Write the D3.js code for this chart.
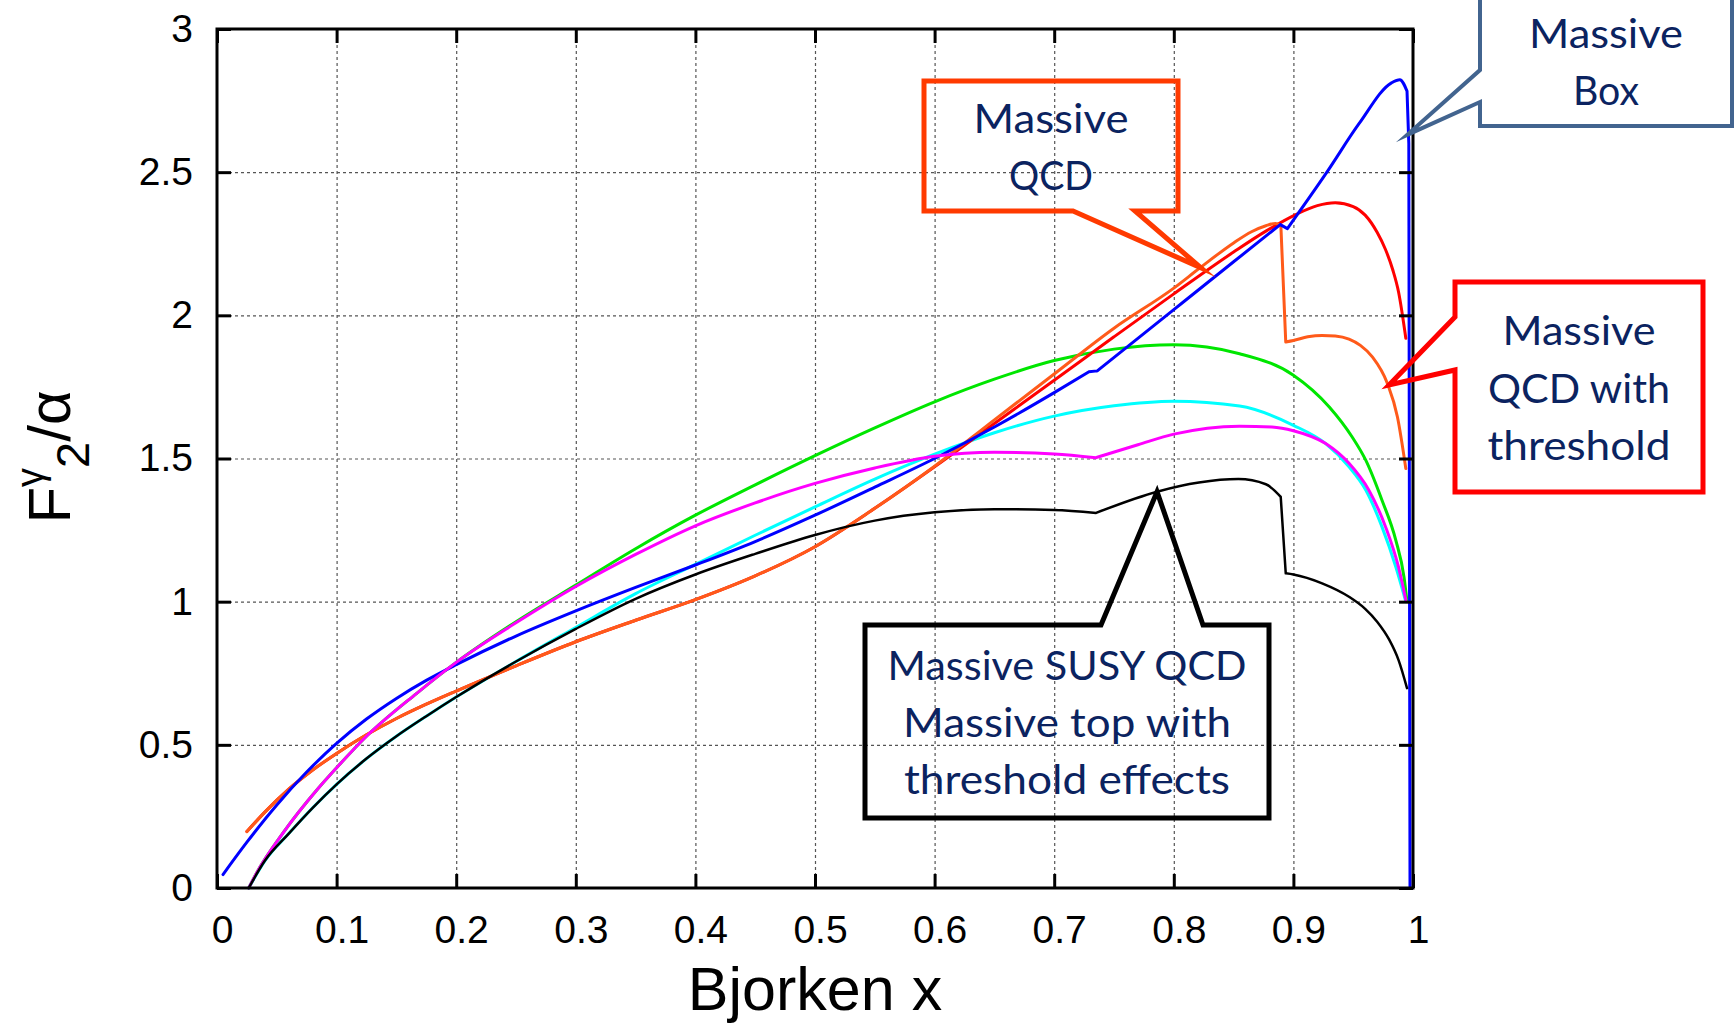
<!DOCTYPE html>
<html>
<head>
<meta charset="utf-8">
<script src="https://cdn.jsdelivr.net/npm/d3@7"></script>
<style>
  html, body { margin: 0; padding: 0; background: #fff; }
  svg { display: block; }
</style>
</head>
<body>
<svg id="chart" width="1734" height="1024"></svg>
<script>
// ---- axis ticks ----
const xTickValues = [0, 0.1, 0.2, 0.3, 0.4, 0.5, 0.6, 0.7, 0.8, 0.9, 1];
const xTickLabels = ["0", "0.1", "0.2", "0.3", "0.4", "0.5", "0.6", "0.7", "0.8", "0.9", "1"];
const yTickValues = [0, 0.5, 1, 1.5, 2, 2.5, 3];
const yTickLabels = ["0", "0.5", "1", "1.5", "2", "2.5", "3"];

// ---- F2^gamma / alpha versus Bjorken x, one [x, F2] list per curve ----
const curveGreen = [
  [0.0265, 0], [0.033, 0.052], [0.056, 0.197], [0.084, 0.345], [0.1, 0.42], [0.125, 0.53],
  [0.167, 0.68], [0.2, 0.788], [0.25, 0.93], [0.3, 1.058], [0.35, 1.185], [0.4, 1.302],
  [0.45, 1.408], [0.5, 1.51], [0.55, 1.607], [0.6, 1.698], [0.65, 1.777], [0.7, 1.842],
  [0.75, 1.882], [0.8, 1.897], [0.855, 1.866], [0.9, 1.791], [0.93, 1.68], [0.949, 1.576],
  [0.9605, 1.494], [0.974, 1.355], [0.9856, 1.215], [0.9925, 1.085], [0.995, 1.0]
];
const curveCyan = [
  [0.0265, 0], [0.04, 0.095], [0.06, 0.19], [0.08, 0.28], [0.1, 0.362], [0.125, 0.452],
  [0.15, 0.53], [0.175, 0.6], [0.2, 0.667], [0.25, 0.791], [0.3, 0.91], [0.35, 1.028],
  [0.4, 1.13], [0.45, 1.232], [0.5, 1.331], [0.55, 1.428], [0.6, 1.515], [0.65, 1.59],
  [0.7, 1.648], [0.75, 1.684], [0.8, 1.70], [0.855, 1.683], [0.9, 1.616], [0.927, 1.552],
  [0.9465, 1.471], [0.9605, 1.39], [0.974, 1.262], [0.9856, 1.122], [0.994, 1.0]
];
const curveMagenta = [
  [0.0265, 0], [0.033, 0.052], [0.056, 0.197], [0.084, 0.345], [0.1, 0.42], [0.125, 0.53],
  [0.167, 0.68], [0.2, 0.788], [0.25, 0.926], [0.3, 1.053], [0.35, 1.165], [0.4, 1.265],
  [0.45, 1.345], [0.5, 1.413], [0.55, 1.467], [0.6, 1.508], [0.65, 1.522], [0.7, 1.516],
  [0.735, 1.503], [0.77, 1.548], [0.8, 1.585], [0.855, 1.613], [0.882, 1.61], [0.9, 1.597],
  [0.927, 1.552], [0.9465, 1.483], [0.963, 1.39], [0.977, 1.262], [0.9878, 1.122], [0.994, 1.006]
];
const magentaKinks = [0.735];

// Massive QCD
const massiveQcd = [
  [0.025, 0.197], [0.04, 0.265], [0.06, 0.345], [0.08, 0.412], [0.1, 0.47], [0.125, 0.535],
  [0.15, 0.592], [0.175, 0.642], [0.2, 0.688], [0.25, 0.776], [0.3, 0.86], [0.35, 0.935],
  [0.4, 1.007], [0.45, 1.09], [0.5, 1.192], [0.55, 1.326], [0.6, 1.471], [0.65, 1.622],
  [0.7, 1.773], [0.75, 1.925], [0.8, 2.075], [0.85, 2.221], [0.877, 2.294], [0.902, 2.352],
  [0.92, 2.383], [0.935, 2.393], [0.95, 2.38], [0.96, 2.35], [0.97, 2.29], [0.977, 2.23],
  [0.983, 2.16], [0.988, 2.08], [0.994, 1.92]
];
// Massive QCD with threshold
const massiveQcdThreshold = [
  [0.025, 0.197], [0.04, 0.265], [0.06, 0.345], [0.08, 0.412], [0.1, 0.47], [0.125, 0.535],
  [0.15, 0.592], [0.175, 0.642], [0.2, 0.688], [0.25, 0.776], [0.3, 0.86], [0.35, 0.935],
  [0.4, 1.007], [0.45, 1.09], [0.5, 1.192], [0.55, 1.326], [0.6, 1.473], [0.65, 1.635],
  [0.7, 1.795], [0.75, 1.955], [0.8, 2.095], [0.822, 2.166], [0.85, 2.253], [0.865, 2.292],
  [0.877, 2.313], [0.885, 2.321], [0.8895, 2.315], [0.8936, 1.907], [0.9, 1.912], [0.912, 1.925],
  [0.924, 1.93], [0.935, 1.928], [0.9465, 1.917], [0.956, 1.895], [0.966, 1.855], [0.9786, 1.762],
  [0.987, 1.645], [0.994, 1.465]
];
const thresholdKinks = [0.8895, 0.8936];

// Massive Box
const massiveBox = [
  [0.005, 0.047], [0.025, 0.16], [0.05, 0.29], [0.075, 0.405], [0.1, 0.505], [0.125, 0.59],
  [0.15, 0.662], [0.175, 0.725], [0.2, 0.78], [0.25, 0.88], [0.3, 0.968], [0.35, 1.05],
  [0.4, 1.128], [0.45, 1.21], [0.5, 1.302], [0.55, 1.40], [0.6, 1.50], [0.65, 1.61],
  [0.7, 1.73], [0.729, 1.803], [0.736, 1.806], [0.8, 2.02], [0.85, 2.187], [0.889, 2.317],
  [0.895, 2.303], [0.928, 2.5], [0.955, 2.67], [0.982, 2.812], [0.989, 2.823], [0.995, 2.783],
  [0.9965, 2.6], [0.9975, 0]
];
const boxKinks = [0.729, 0.736, 0.889, 0.895, 0.995, 0.9965];

// Massive SUSY QCD, massive top with threshold effects
const susyTopThreshold = [
  [0.0265, 0], [0.04, 0.095], [0.06, 0.19], [0.08, 0.28], [0.1, 0.362], [0.125, 0.452],
  [0.15, 0.53], [0.175, 0.6], [0.2, 0.667], [0.25, 0.791], [0.3, 0.905], [0.35, 1.01],
  [0.4, 1.095], [0.45, 1.167], [0.5, 1.233], [0.55, 1.283], [0.6, 1.312], [0.65, 1.323],
  [0.7, 1.32], [0.735, 1.31], [0.786, 1.384], [0.821, 1.416], [0.854, 1.428], [0.877, 1.41],
  [0.8894, 1.366], [0.8936, 1.099], [0.9, 1.095], [0.924, 1.064], [0.9465, 1.017], [0.96, 0.975],
  [0.97, 0.93], [0.98, 0.868], [0.988, 0.795], [0.995, 0.698]
];
const susyKinks = [0.735, 0.8894, 0.8936];

// ---- chart ----
const W = 1734, H = 1024;
const plot = { left: 217, right: 1413, top: 29, bottom: 888 };

const svg = d3.select("#chart");
svg.append("rect").attr("width", W).attr("height", H).attr("fill", "#fff");

const x = d3.scaleLinear().domain([0, 1]).range([plot.left, plot.right]);
const y = d3.scaleLinear().domain([0, 3]).range([plot.bottom, plot.top]);

// dashed grid
const grid = svg.append("g").attr("class", "grid");
grid.append("g")
  .attr("transform", `translate(0,${plot.bottom})`)
  .call(d3.axisBottom(x).tickValues(xTickValues.slice(1, -1))
    .tickSize(-(plot.bottom - plot.top)).tickFormat(""));
grid.append("g")
  .attr("transform", `translate(${plot.left},0)`)
  .call(d3.axisLeft(y).tickValues(yTickValues.slice(1, -1))
    .tickSize(-(plot.right - plot.left)).tickFormat(""));
grid.selectAll(".domain").remove();
grid.selectAll("line")
  .attr("stroke", "#555")
  .attr("stroke-width", 1.2)
  .attr("stroke-dasharray", "3,3");

// curves
const line = d3.line().x(d => x(d[0])).y(d => y(d[1])).curve(d3.curveMonotoneX);

function pieces(points, kinks) {
  const out = [];
  let cur = [];
  points.forEach(p => {
    cur.push(p);
    if (kinks.includes(p[0]) && cur.length > 1) { out.push(cur); cur = [p]; }
  });
  if (cur.length > 1) out.push(cur);
  return out;
}

const curves = [
  { pts: curveGreen, kinks: [], color: "#00e600", width: 3 },
  { pts: curveCyan, kinks: [], color: "#00ffff", width: 3 },
  { pts: massiveQcd, kinks: [], color: "#ff0000", width: 3 },
  { pts: massiveQcdThreshold, kinks: thresholdKinks, color: "#ff5a1a", width: 3 },
  { pts: massiveBox, kinks: boxKinks, color: "#0000ff", width: 3 },
  { pts: curveMagenta, kinks: magentaKinks, color: "#ff00ff", width: 3 },
  { pts: susyTopThreshold, kinks: susyKinks, color: "#000000", width: 2.5 }
];

svg.append("g").attr("class", "curves")
  .selectAll("path")
  .data(curves)
  .join("path")
  .attr("d", c => pieces(c.pts, c.kinks).map(seg => line(seg)).join(""))
  .attr("fill", "none")
  .attr("stroke", d => d.color)
  .attr("stroke-width", d => d.width)
  .attr("stroke-linejoin", "round")
  .attr("stroke-linecap", "round");

// axes with inward ticks on all four sides
const fmtX = d => xTickLabels[xTickValues.indexOf(d)];
const fmtY = d => yTickLabels[yTickValues.indexOf(d)];
const tickFont = "'Liberation Sans', Arial, Helvetica, sans-serif";

const axB = svg.append("g").attr("transform", `translate(0,${plot.bottom})`)
  .call(d3.axisBottom(x).tickValues(xTickValues).tickSize(-14).tickPadding(27).tickFormat(fmtX));
axB.selectAll("text").attr("dx", 5);
const axL = svg.append("g").attr("transform", `translate(${plot.left},0)`)
  .call(d3.axisLeft(y).tickValues(yTickValues).tickSize(-14).tickPadding(24).tickFormat(fmtY));
const axT = svg.append("g").attr("transform", `translate(0,${plot.top})`)
  .call(d3.axisTop(x).tickValues(xTickValues).tickSize(-14).tickFormat(""));
const axR = svg.append("g").attr("transform", `translate(${plot.right},0)`)
  .call(d3.axisRight(y).tickValues(yTickValues).tickSize(-14).tickFormat(""));

[axB, axL, axT, axR].forEach(a => {
  a.select(".domain").remove();
  a.selectAll("line").attr("stroke", "#000").attr("stroke-width", 3);
  a.selectAll("text")
    .attr("fill", "#000")
    .style("font-family", tickFont)
    .style("font-size", "39px");
});

// frame
svg.append("rect")
  .attr("x", plot.left).attr("y", plot.top)
  .attr("width", plot.right - plot.left).attr("height", plot.bottom - plot.top)
  .attr("fill", "none").attr("stroke", "#000").attr("stroke-width", 3);

// axis titles
svg.append("text")
  .attr("x", (plot.left + plot.right) / 2).attr("y", 1010)
  .attr("text-anchor", "middle")
  .style("font-family", tickFont).style("font-size", "61px")
  .text("Bjorken x");

const yTitle = svg.append("text")
  .attr("transform", "translate(70,457) rotate(-90)")
  .attr("text-anchor", "middle")
  .style("font-family", tickFont).style("font-size", "60px");
yTitle.append("tspan").text("F");
yTitle.append("tspan").attr("dy", -27).style("font-size", "38px").text("γ");
yTitle.append("tspan").attr("dy", 46).style("font-size", "47px").text("2");
yTitle.append("tspan").attr("dy", -19).text("/α");

// ---- callouts: box outline in pixels, pointer tip on the curve in data units ----
const calloutFont = "Lato, 'Open Sans', 'Noto Sans', sans-serif";
const navy = "#0b2360";

function callout(c) {
  const tx = x(c.tip[0]), ty = y(c.tip[1]);
  const { l, t, r, b } = c.box;
  let pts;
  if (c.side === "bottom") {
    pts = [[l, t], [r, t], [r, b], [c.arm[1], b], [tx, ty], [c.arm[0], b], [l, b]];
  } else if (c.side === "top") {
    pts = [[l, t], [c.arm[0], t], [tx, ty], [c.arm[1], t], [r, t], [r, b], [l, b]];
  } else { // pointer leaves the left edge
    pts = [[l, t], [r, t], [r, b], [l, b], [l, c.arm[1]], [tx, ty], [l, c.arm[0]]];
  }
  svg.append("path")
    .attr("d", d3.line()(pts) + "Z")
    .attr("fill", "none")
    .attr("stroke", c.color)
    .attr("stroke-width", c.stroke)
    .attr("stroke-linejoin", "miter")
    .attr("stroke-miterlimit", 10);
  c.lines.forEach((txt, i) => {
    svg.append("text")
      .attr("x", c.cx).attr("y", c.baselines[i])
      .attr("text-anchor", "middle")
      .attr("textLength", c.widths[i])
      .attr("lengthAdjust", "spacingAndGlyphs")
      .attr("fill", navy)
      .style("font-family", calloutFont)
      .style("font-size", "40px")
      .text(txt);
  });
}

callout({
  lines: ["Massive", "Box"], widths: [154, 66], baselines: [48, 105], cx: 1606,
  box: { l: 1480, t: -10, r: 1732, b: 126 }, side: "left", arm: [70, 102],
  tip: [0.995, 2.63], color: "#42648f", stroke: 4
});
callout({
  lines: ["Massive", "QCD"], widths: [155, 84], baselines: [133, 190], cx: 1051,
  box: { l: 924, t: 81, r: 1178, b: 211 }, side: "bottom", arm: [1073, 1135],
  tip: [0.8227, 2.166], color: "#ff3a00", stroke: 5
});
callout({
  lines: ["Massive", "QCD with", "threshold"], widths: [153, 182, 183], baselines: [345, 403, 460], cx: 1579,
  box: { l: 1455, t: 282, r: 1703, b: 492 }, side: "left", arm: [317, 370],
  tip: [0.98, 1.757], color: "#ff0000", stroke: 5
});
callout({
  lines: ["Massive SUSY QCD", "Massive top with", "threshold effects"], widths: [359, 328, 326],
  baselines: [680, 737, 794], cx: 1067,
  box: { l: 865, t: 625, r: 1269, b: 818 }, side: "top", arm: [1101, 1203],
  tip: [0.786, 1.384], color: "#000000", stroke: 5
});
</script>
</body>
</html>
